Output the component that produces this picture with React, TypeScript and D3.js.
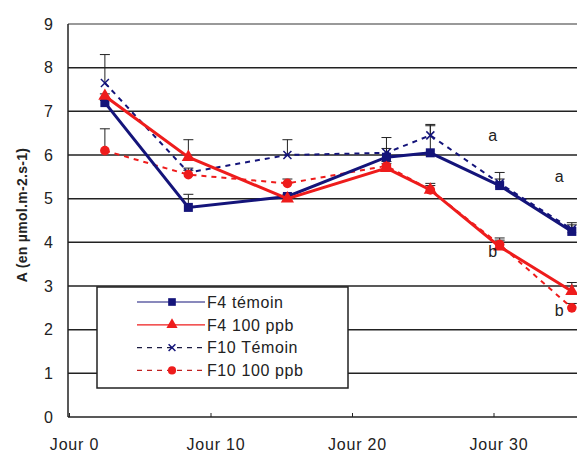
import React from "react";
import * as d3 from "d3";

// sampling days
const days = [2.5, 8.4, 15.4, 22.4, 25.5, 30.4, 35.5];
const xTicks = [0, 10, 20, 30];
const xTickLabels = ["Jour 0", "Jour 10", "Jour 20", "Jour 30"];
const yTicks = [0, 1, 2, 3, 4, 5, 6, 7, 8, 9];

const f4Temoin = [7.2, 4.8, 5.05, 5.95, 6.05, 5.3, 4.25];
const f4Ppb = [7.35, 5.95, 5.0, 5.7, 5.2, 3.9, 2.88];
const f10Temoin = [7.65, 5.6, 6.0, 6.05, 6.45, 5.35, 4.3];
const f10Ppb = [6.1, 5.55, 5.35, 5.75, 5.2, 3.95, 2.5];

const f4TemoinErr = [0.05, 0.3, 0.05, 0.45, 0.62, 0.3, 0.2];
const f4PpbErr = [0.05, 0.4, 0.05, 0.1, 0.15, 0.2, 0.2];
const f10TemoinErr = [0.65, 0.1, 0.35, 0.1, 0.25, 0.1, 0.1];
const f10PpbErr = [0.5, 0.1, 0.1, 0.1, 0.1, 0.1, 0.1];

const letters = ["a", "a", "b", "b"];
const letterDays = [29.9, 34.6, 29.9, 34.6];
const letterValues = [6.45, 5.5, 3.8, 2.45];

type Series = {
  name: string;
  values: number[];
  err: number[];
  color: string;
  legendColor: string;
  width: number;
  dash?: string;
  marker: "square" | "triangle" | "x" | "circle";
};

const NAVY = "#14147a";
const RED = "#ee1c1c";

const series: Series[] = [
  { name: "F4 témoin", values: f4Temoin, err: f4TemoinErr, color: NAVY, legendColor: NAVY, width: 3, marker: "square" },
  { name: "F4 100 ppb", values: f4Ppb, err: f4PpbErr, color: RED, legendColor: RED, width: 3, marker: "triangle" },
  { name: "F10 Témoin", values: f10Temoin, err: f10TemoinErr, color: NAVY, legendColor: "#1a1a40", width: 2, dash: "5,5", marker: "x" },
  { name: "F10 100 ppb", values: f10Ppb, err: f10PpbErr, color: RED, legendColor: "#c02020", width: 2, dash: "5,5", marker: "circle" },
];

const W = 577;
const H = 453;
const font = "'Liberation Sans', Arial, sans-serif";

const Marker: React.FC<{ kind: Series["marker"]; x: number; y: number; color: string; s?: number }> = ({ kind, x, y, color, s = 1 }) => {
  if (kind === "square") return <rect x={x - 4.5 * s} y={y - 4.5 * s} width={9 * s} height={9 * s} fill={color} />;
  if (kind === "triangle")
    return <path d={d3.symbol(d3.symbolTriangle, 75 * s * s)() ?? ""} transform={`translate(${x},${y})`} fill={color} />;
  if (kind === "circle") return <circle cx={x} cy={y} r={4.8 * s} fill={color} />;
  return (
    <g stroke={color} strokeWidth={1.5}>
      <line x1={x - 4 * s} y1={y - 4 * s} x2={x + 4 * s} y2={y + 4 * s} />
      <line x1={x - 4 * s} y1={y + 4 * s} x2={x + 4 * s} y2={y - 4 * s} />
    </g>
  );
};

const App: React.FC = () => {
  const left = 68;
  const top = 24;
  const bottom = 417;

  const x = d3.scaleLinear().domain([0, 40]).range([69.5, 69.5 + 40 * 14.15]);
  const y = d3.scaleLinear().domain([0, 9]).range([bottom, top]);

  const line = d3
    .line<number>()
    .x((_, i) => x(days[i]))
    .y((d) => y(d));

  return (
    <div style={{ position: "absolute", left: 0, top: 0 }}>
      <svg width={W} height={H} style={{ display: "block", background: "#fff" }} fontFamily={font}>
        {/* grid */}
        {yTicks.filter((t) => t > 0).map((t) => (
          <line key={t} x1={left} x2={W} y1={y(t)} y2={y(t)} stroke={t === 9 ? "#777" : "#222"} strokeWidth={1.5} />
        ))}
        {/* axes */}
        <line x1={left} x2={W} y1={bottom} y2={bottom} stroke="#222" strokeWidth={1.5} />
        <line x1={left} x2={left} y1={top} y2={bottom} stroke="#222" strokeWidth={1.5} />
        {xTicks.map((t) => (
          <line key={t} x1={x(t)} x2={x(t)} y1={bottom} y2={bottom - 4} stroke="#222" />
        ))}
        {yTicks.map((t) => (
          <text key={t} x={53} y={y(t)} dy="0.36em" textAnchor="end" fontSize={16} fill="#222">
            {t}
          </text>
        ))}
        {xTicks.map((t, i) => (
          <text key={t} x={x(t) + 5} y={450} textAnchor="middle" fontSize={16} letterSpacing={0.8} fill="#222">
            {xTickLabels[i]}
          </text>
        ))}
        <text
          transform={`translate(27,215) rotate(-90)`}
          textAnchor="middle"
          fontSize={14}
          fontWeight="bold"
          letterSpacing={0.3}
          fill="#222"
        >
          A (en µmol.m-2.s-1)
        </text>

        {/* legend box */}
        <rect x={97} y={287} width={251} height={101} fill="#fff" stroke="#222" strokeWidth={1.5} />
        {series.map((s, i) => {
          const ly = 302 + i * 22.8;
          return (
            <g key={s.name}>
              <line x1={137} x2={205} y1={ly} y2={ly} stroke={s.legendColor} strokeWidth={1.2} strokeDasharray={s.dash ? "5,5" : undefined} />
              <Marker kind={s.marker} x={172} y={ly} color={s.color} s={0.85} />
              <text x={207} y={ly} dy="0.36em" fontSize={16} letterSpacing={0.6} fill="#222">
                {s.name}
              </text>
            </g>
          );
        })}

        {/* error bars */}
        {series.map((s) =>
          s.values.map((v, i) => (
            <g key={s.name + i} stroke="#222" strokeWidth={1}>
              <line x1={x(days[i])} x2={x(days[i])} y1={y(v)} y2={y(v + s.err[i])} />
              <line x1={x(days[i]) - 5} x2={x(days[i]) + 5} y1={y(v + s.err[i])} y2={y(v + s.err[i])} />
            </g>
          ))
        )}

        {/* lines, dashed first */}
        {[2, 3, 0, 1].map((k) => {
          const s = series[k];
          return (
            <g key={s.name}>
              <path d={line(s.values) ?? ""} fill="none" stroke={s.color} strokeWidth={s.width} strokeDasharray={s.dash} />
              {s.values.map((v, i) => (
                <Marker key={i} kind={s.marker} x={x(days[i])} y={y(v)} color={s.color} />
              ))}
            </g>
          );
        })}

        {letters.map((l, i) => (
          <text key={i} x={x(letterDays[i])} y={y(letterValues[i])} dy="0.35em" textAnchor="middle" fontSize={16} fill="#222">
            {l}
          </text>
        ))}
      </svg>
    </div>
  );
};

export default App;
